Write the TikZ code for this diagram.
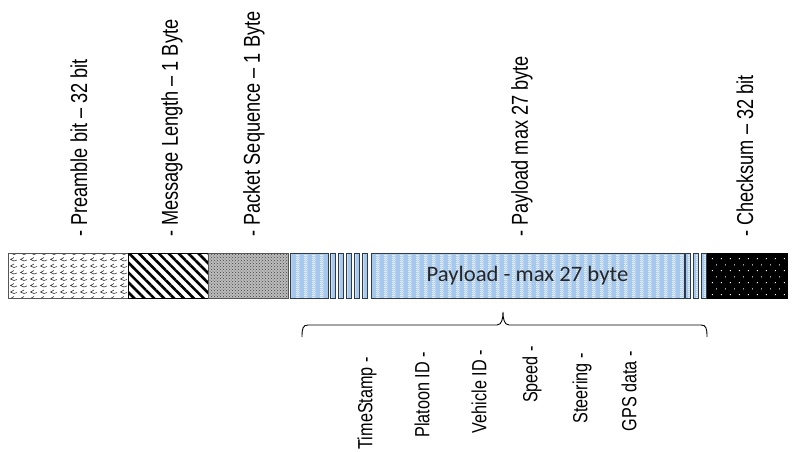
\documentclass[tikz,border=0pt]{standalone}
\usepackage{fontspec}
\setmainfont{Liberation Sans}
\newfontfamily\lblfont[FakeStretch=0.79]{Liberation Sans}
\newfontfamily\sublblfont[FakeStretch=0.79]{Liberation Sans}
\newfontfamily\boxfont[FakeStretch=1.03]{Carlito}
\usetikzlibrary{patterns, patterns.meta, calc, positioning}
\definecolor{Frame_Gray}{HTML}{555555}
\definecolor{Frame_Slate}{HTML}{2F3B4A}
\definecolor{Pay_Blue}{HTML}{A6C8EC}
\definecolor{Seq_Gray}{HTML}{BDBDBD}

% small wave marks for the preamble field
\pgfdeclarepatternformonly{wavelet}{\pgfqpoint{-1pt}{-1pt}}{\pgfqpoint{11pt}{7.5pt}}{\pgfqpoint{10pt}{6.5pt}}{%
  \pgfsetlinewidth{0.6pt}
  \pgfpathmoveto{\pgfqpoint{4pt}{5pt}}
  \pgfpathlineto{\pgfqpoint{0.5pt}{3pt}}
  \pgfpathlineto{\pgfqpoint{4pt}{1.5pt}}
  \pgfpathlineto{\pgfqpoint{7pt}{2.5pt}}
  \pgfusepath{stroke}}
% checker columns for the payload
\pgfdeclarepatternformonly{bluecheck}{\pgfqpoint{0pt}{0pt}}{\pgfqpoint{8pt}{2pt}}{\pgfqpoint{8pt}{2pt}}{%
  \pgfpathrectangle{\pgfqpoint{0pt}{0pt}}{\pgfqpoint{1pt}{1pt}}
  \pgfpathrectangle{\pgfqpoint{2pt}{0pt}}{\pgfqpoint{1pt}{1pt}}
  \pgfpathrectangle{\pgfqpoint{1pt}{1pt}}{\pgfqpoint{1pt}{1pt}}
  \pgfpathrectangle{\pgfqpoint{3pt}{1pt}}{\pgfqpoint{1pt}{1pt}}
  \pgfusepath{fill}}
% dots for the checksum
\pgfdeclarepatternformonly{speckle}{\pgfqpoint{0pt}{0pt}}{\pgfqpoint{9pt}{12pt}}{\pgfqpoint{9pt}{12pt}}{%
  \pgfpathrectangle{\pgfqpoint{1pt}{1pt}}{\pgfqpoint{1pt}{1pt}}
  \pgfpathrectangle{\pgfqpoint{5.5pt}{7pt}}{\pgfqpoint{1pt}{1pt}}
  \pgfusepath{fill}}

\begin{document}
\begin{tikzpicture}[
    x=1pt, y=-1pt,
    field/.style={draw=Frame_Gray, line width=1pt, minimum height=45pt, inner sep=0pt, outer sep=0pt, anchor=north west},
    paybox/.style={field, draw=Frame_Slate, preaction={fill=Pay_Blue}, pattern=bluecheck, pattern color=white},
    toplbl/.style={rotate=90, anchor=west, inner sep=0pt, font=\lblfont\fontsize{23}{26}\selectfont},
    botlbl/.style={rotate=90, anchor=east, inner sep=0pt, font=\sublblfont\fontsize{20.5}{24}\selectfont}
]
\useasboundingbox (0,0) rectangle (792,451);

% frame fields
\node[field, minimum width=120pt, preaction={fill=white}, pattern=wavelet, pattern color=black!80] (pre) at (8,253) {};
\node[field, minimum width=80pt, draw=black, preaction={fill=white}, pattern={Lines[angle=-45, distance=7pt, line width=2.6pt]}] (len) at (128,253) {};
\node[field, minimum width=80pt, preaction={fill=Seq_Gray}, pattern=crosshatch dots, pattern color=black!75] (seq) at (208,253) {};
\node[paybox, minimum width=38pt] (pay) at (290,253) {};
\foreach \i/\x in {1/330, 2/338, 3/346, 4/354, 5/362}
    \node[paybox, minimum width=5.5pt] (ta\i) at (\x,253) {};
\node[paybox, minimum width=313pt, font=\boxfont\fontsize{22}{25}\selectfont, text=black!85] (body) at (371,253) {Payload - max 27 byte};
\foreach \i/\x in {1/685, 2/693, 3/701}
    \node[paybox, minimum width=5pt] (tb\i) at (\x,253) {};
\node[field, minimum width=80pt, draw=black, preaction={fill=black}, pattern=speckle, pattern color=white] (chk) at (707,253) {};

% field labels
\node[toplbl] (lpre) at (79,237) {- Preamble bit – 32 bit};
\node[toplbl] (llen) at (172,237) {- Message Length – 1 Byte};
\node[toplbl] (lseq) at (254,237) {- Packet Sequence – 1 Byte};
\node[toplbl] (lpay) at (522,237) {- Payload max 27 byte};
\node[toplbl] (lchk) at (745,237) {- Checksum – 32 bit};

% payload brace
\coordinate (bl) at (302,337);
\coordinate (br) at (707,337);
\coordinate (tip) at (503,312);
\draw[line width=0.9pt] (bl) .. controls +(0,-9) and +(-5,0) .. ++(6,-12)
    -- ($(tip)+(-6,13)$) .. controls +(5,0) and +(0,6) .. (tip)
    .. controls +(0,6) and +(-5,0) .. ++(6,13)
    -- ($(br)+(-6,-12)$) .. controls +(5,0) and +(0,-9) .. (br);

% payload contents
\node[botlbl] (ts) at (367,357) {TimeStamp -};
\node[botlbl] (pid) at (422,352) {Platoon ID -};
\node[botlbl] (vid) at (479,350) {Vehicle ID -};
\node[botlbl] (spd) at (532,346) {Speed -};
\node[botlbl] (str) at (582,353) {Steering -};
\node[botlbl] (gps) at (629,351) {GPS data -};
\end{tikzpicture}
\end{document}
